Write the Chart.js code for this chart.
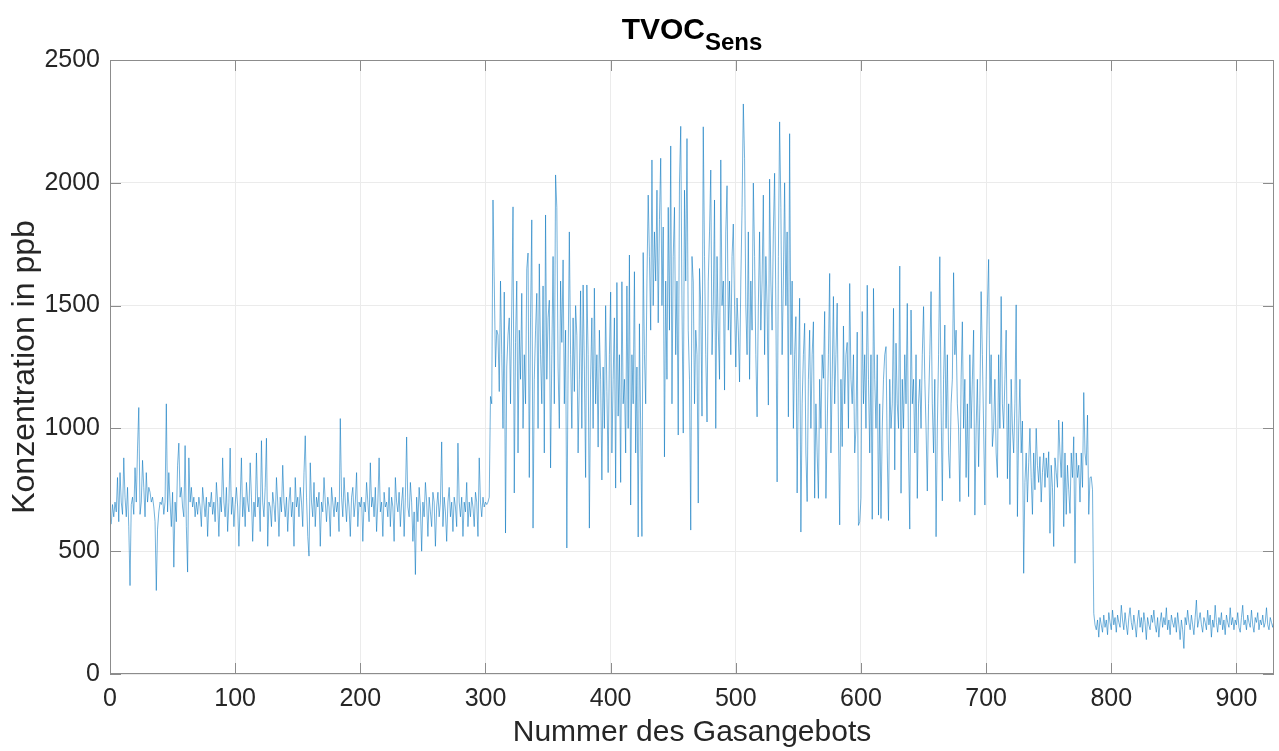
<!DOCTYPE html>
<html>
<head>
<meta charset="utf-8">
<script src="https://cdn.jsdelivr.net/npm/chart.js@4/dist/chart.umd.min.js"></script>
<style>
  html, body { margin: 0; padding: 0; background: #fff; }
  #wrap { width: 1279px; height: 751px; }
</style>
</head>
<body>
<div id="wrap"><canvas id="tvoc" width="1279" height="751"></canvas></div>
<script>
// TVOC readings per gas exposure (ppb)
const tvocSens = [
  610,690,640,700,660,800,620,820,700,650,
  880,720,640,760,600,360,690,720,650,840,
  700,920,1085,650,700,870,760,640,820,700,
  760,740,700,720,680,620,340,590,660,700,
  690,720,650,700,1100,660,820,700,600,740,
  435,700,620,850,940,720,760,680,640,930,
  600,415,880,700,760,680,720,640,700,650,
  720,680,600,760,700,640,720,560,700,680,
  740,650,700,620,780,700,560,720,660,880,
  700,640,760,580,700,920,650,720,600,690,
  760,680,520,700,880,640,720,600,780,700,
  660,860,720,540,700,640,900,680,720,580,
  950,700,640,760,960,520,700,680,600,740,
  690,620,800,700,560,720,660,850,700,640,
  720,580,700,760,640,700,520,800,680,720,
  640,760,700,600,820,970,720,560,480,860,
  700,640,780,600,720,680,740,520,700,660,
  800,700,620,720,680,560,760,700,640,720,
  660,700,580,1040,720,640,800,700,620,740,
  680,560,720,760,640,700,820,600,700,680,
  720,540,700,660,780,700,620,860,680,720,
  640,760,580,700,880,660,700,560,740,680,
  700,640,760,600,720,680,540,800,700,660,
  740,600,700,760,560,720,965,680,640,780,
  700,540,660,405,720,620,760,680,500,700,
  640,780,700,560,720,660,600,740,700,520,
  680,740,640,700,945,600,720,660,540,700,
  760,640,700,580,720,680,600,940,700,640,
  720,560,700,660,780,600,700,640,720,680,
  600,740,700,560,880,700,640,720,680,700,
  690,700,720,1130,1100,1930,1600,1250,1400,1380,
  1150,1600,1300,1000,1555,574,1250,1380,1450,1100,
  1500,1902,737,1350,1600,900,1400,1200,1550,1000,
  1300,1100,1650,1714,800,1450,1849,594,1200,1400,
  1550,1000,1670,1300,1100,1580,900,1869,1200,1450,
  1522,839,1300,1700,1100,2032,1900,1250,1000,1600,
  1350,1686,1100,1400,513,1250,1800,1300,1000,1450,
  1150,1500,1377,900,1200,1560,1000,1584,1250,800,
  1584,1300,594,1200,1450,1000,1571,1100,1300,924,
  1400,1200,790,1250,1000,1500,1150,820,1300,1555,
  900,1200,1450,757,1594,1050,1300,780,1597,1100,
  1200,900,1580,1000,1706,688,1300,1100,1638,900,
  1250,558,1426,1000,560,1716,1300,1100,1600,1950,
  1700,1400,2093,1500,1800,1600,1970,1430,1850,2100,
  1500,1820,884,1600,1200,1900,1400,2150,1100,1700,
  1900,1300,1600,973,2000,2230,1500,981,1970,1600,
  2180,1400,1200,586,1700,1596,1100,1400,1300,696,
  1651,1500,1050,2228,1700,1300,1026,1600,1800,2052,
  1300,1500,1930,1000,1700,1400,1200,2093,1500,1600,
  1156,1800,1988,1400,1600,1300,1700,1832,1500,1250,
  1531,1400,1189,1600,1900,2321,2100,1500,1300,1800,
  1200,1600,1400,1999,1700,1300,1047,1500,1800,1400,
  1600,1950,1300,1700,1500,1095,2015,1600,1400,1800,
  2039,1500,782,1700,2248,1900,1300,1600,2000,1500,
  1800,1047,2200,1300,1600,1000,1300,1455,737,1200,
  1530,578,1100,1300,1428,900,702,1200,1400,1000,
  1300,1434,716,1100,900,715,1200,1000,1300,1204,
  1476,715,1000,1300,1631,900,1200,1537,1100,1300,
  1510,1000,607,1200,926,1417,1100,1300,1350,1000,
  1590,1200,1100,1300,900,1000,1392,605,620,716,
  1476,1100,1300,1000,1583,1200,900,1300,630,1570,
  1200,1000,1300,647,1100,633,1000,1200,1300,1333,
  900,625,1200,1000,1100,1489,831,1347,1100,1000,
  1661,736,1200,1000,1300,1100,1509,900,590,1482,
  1100,1200,900,1300,715,1100,1200,1000,1300,1496,
  1200,1000,745,1100,1300,1557,1100,900,1200,559,
  1000,1300,1699,1100,705,1200,1421,1000,1300,900,
  797,1100,1200,1634,1300,1400,1100,1000,702,1200,
  1434,1000,1200,800,1100,722,1300,1000,1200,1400,
  647,1000,1200,844,1100,1557,1300,1000,688,1200,
  1500,1688,1100,1300,926,1000,1200,900,800,1300,
  1000,1537,1100,1000,1200,1400,795,1100,690,1200,
  1000,900,1100,1503,641,1000,1200,900,1030,410,
  780,900,700,860,1000,800,650,900,750,1000,
  850,780,885,700,820,900,760,880,800,905,
  573,850,760,519,880,820,760,1034,900,800,
  1027,600,900,650,850,750,654,900,800,966,
  451,900,800,850,700,900,760,1146,900,850,
  1054,650,800,803,750,247,200,180,220,150,
  230,200,170,240,190,220,160,250,210,180,
  260,200,230,170,240,210,190,280,220,180,
  250,200,160,230,270,210,180,240,200,150,
  220,260,190,230,170,250,210,140,230,200,
  180,240,210,260,200,170,230,150,210,250,
  190,230,200,270,180,220,160,240,210,190,
  230,170,250,200,140,220,180,104,230,200,
  260,210,180,240,200,160,230,301,190,220,
  250,200,170,230,210,180,260,200,240,150,
  220,190,280,210,170,230,200,250,180,220,
  160,240,210,190,270,200,230,180,220,200,
  250,190,170,230,280,200,220,180,240,210,
  190,260,200,170,230,210,250,180,220,200,
  240,190,210,270,200,180,230,210,190,220
];
const xTicks = [0,100,200,300,400,500,600,700,800,900];
const yTicks = [0,500,1000,1500,2000,2500];

const textColor = '#262626';
const fontFamily = '"Liberation Sans", Arial, Helvetica, sans-serif';

// box, inward tick marks and the title with subscript
const matlabAxes = {
  id: 'matlabAxes',
  afterDraw(chart) {
    const { ctx, chartArea: a, scales } = chart;
    ctx.save();
    ctx.strokeStyle = '#8c8c8c';
    ctx.lineWidth = 1;
    ctx.strokeRect(a.left + 0.5, a.top + 0.5, a.right - a.left - 1, a.bottom - a.top - 1);
    ctx.beginPath();
    xTicks.forEach(v => {
      const x = Math.round(scales.x.getPixelForValue(v)) + 0.5;
      ctx.moveTo(x, a.bottom); ctx.lineTo(x, a.bottom - 11);
      ctx.moveTo(x, a.top); ctx.lineTo(x, a.top + 11);
    });
    yTicks.forEach(v => {
      const y = Math.round(scales.y.getPixelForValue(v)) + 0.5;
      ctx.moveTo(a.left, y); ctx.lineTo(a.left + 11, y);
      ctx.moveTo(a.right, y); ctx.lineTo(a.right - 11, y);
    });
    ctx.stroke();

    // title: TVOC with subscript "Sens"
    ctx.fillStyle = '#000';
    ctx.textBaseline = 'alphabetic';
    const main = 'TVOC', sub = 'Sens';
    ctx.font = 'bold 30px ' + fontFamily;
    const wMain = ctx.measureText(main).width;
    ctx.font = 'bold 24px ' + fontFamily;
    const wSub = ctx.measureText(sub).width;
    const x0 = (a.left + a.right) / 2 - (wMain + wSub) / 2;
    ctx.font = 'bold 30px ' + fontFamily;
    ctx.fillText(main, x0, 39);
    ctx.font = 'bold 24px ' + fontFamily;
    ctx.fillText(sub, x0 + wMain, 50);
    ctx.restore();
  }
};

new Chart(document.getElementById('tvoc'), {
  type: 'line',
  data: {
    datasets: [{
      data: tvocSens.map((v, i) => ({ x: i + 1, y: v })),
      borderColor: 'rgba(0,114,189,0.55)',
      borderWidth: 1,
      pointRadius: 0,
      tension: 0,
      fill: false
    }]
  },
  options: {
    responsive: false,
    animation: false,
    layout: { padding: { top: 60, right: 5, left: 0, bottom: 0 } },
    plugins: { legend: { display: false }, tooltip: { enabled: false } },
    scales: {
      x: {
        type: 'linear',
        min: 0,
        max: 930,
        afterBuildTicks: s => { s.ticks = xTicks.map(v => ({ value: v })); },
        afterFit: s => { s.height = 77; },
        grid: { color: '#ebebeb', drawTicks: false },
        border: { display: false },
        ticks: { color: textColor, font: { family: fontFamily, size: 25 }, padding: 10, maxRotation: 0,
                 callback: v => String(v) },
        title: { display: true, text: 'Nummer des Gasangebots', color: textColor,
                 font: { family: fontFamily, size: 30 }, padding: { top: 6, bottom: 0 } }
      },
      y: {
        min: 0,
        max: 2500,
        afterBuildTicks: s => { s.ticks = yTicks.map(v => ({ value: v })); },
        afterFit: s => { s.width = 110; },
        grid: { color: '#ebebeb', drawTicks: false },
        border: { display: false },
        ticks: { color: textColor, font: { family: fontFamily, size: 25 }, padding: 10,
                 callback: v => String(v) },
        title: { display: true, text: 'Konzentration in ppb', color: textColor,
                 font: { family: fontFamily, size: 32 }, padding: { top: 6, bottom: 4 } }
      }
    }
  },
  plugins: [matlabAxes]
});
</script>
</body>
</html>
